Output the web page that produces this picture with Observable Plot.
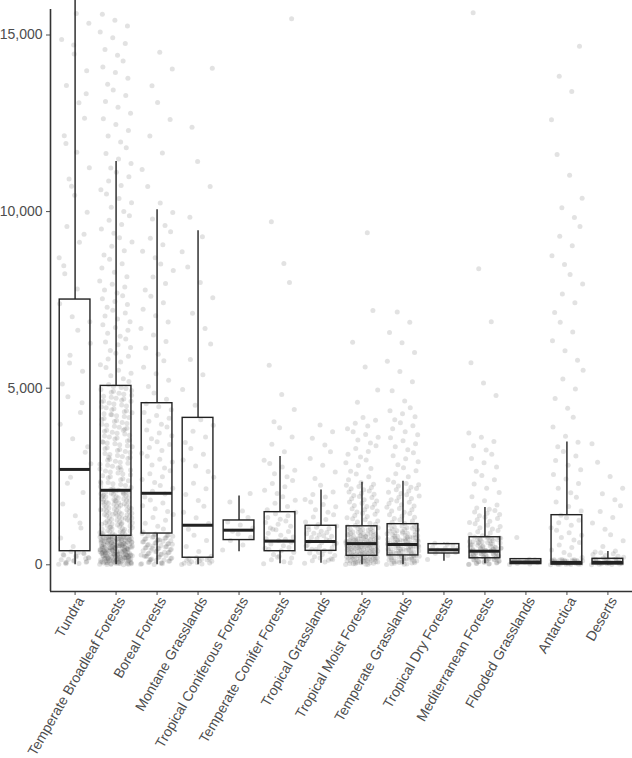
<!DOCTYPE html>
<html><head><meta charset="utf-8">
<script src="https://cdn.jsdelivr.net/npm/d3@7"></script>
<script src="https://cdn.jsdelivr.net/npm/@observablehq/plot@0.6"></script>
<style>body{margin:0;background:#fff}</style>
</head><body><div id="chart"></div>
<script>
const categories = ["Tundra","Temperate Broadleaf Forests","Boreal Forests","Montane Grasslands","Tropical Coniferous Forests","Temperate Conifer Forests","Tropical Grasslands","Tropical Moist Forests","Temperate Grasslands","Tropical Dry Forests","Mediterranean Forests","Flooded Grasslands","Antarctica","Deserts"];
const whiskerLow  = [0, 0, 0, 0, 370, 30, 45, 0, 0, 100, 30, 20, 0, 0];
const q1          = [385, 820, 885, 200, 700, 385, 395, 255, 265, 320, 185, 20, 5, 10];
const median      = [2700, 2110, 2025, 1120, 980, 670, 660, 600, 575, 425, 385, 80, 65, 65];
const q3          = [7510, 5065, 4575, 4160, 1255, 1490, 1105, 1090, 1150, 585, 780, 160, 1405, 170];
const whiskerHigh = [18200, 11420, 10055, 9460, 1950, 3065, 2120, 2340, 2365, 610, 1620, 160, 3480, 375];
const yTicks = [0, 5000, 10000, 15000];

const tundraPts = [15,40,65,90,120,160,190,230,270,310,350,30,75,110,140,205,250,290,335,380,55,175,
 520,760,1040,1390,1720,2050,2480,2860,3190,3570,3980,4310,4760,5120,5480,5930,6270,6640,7020,7390,
 1180,2310,3340,4590,5710,6880,
 7810,8240,8690,9130,9580,9980,10460,10920,11240,11680,12150,12640,13080,13570,13990,14460,14870,15330,15610,
 8470,9360,10720,11930,13340,14720];
const broadleafPts = [12,37,58,81,96,123,141,167,188,204,229,246,271,293,318,334,357,379,402,421,448,466,489,512,534,553,578,597,621,643,668,689,712,736,758,781,797,
 23,49,72,109,134,156,178,213,238,262,287,306,341,366,391,414,437,459,481,503,527,548,571,593,614,637,659,683,704,727,749,772,794,
 8,31,64,89,117,149,171,196,221,253,279,301,327,352,384,409,433,471,497,541,586,628,674,718,763,
 3,17,29,44,61,77,93,104,119,131,145,162,174,183,199,209,217,233,242,258,266,276,284,298,313,322,338,347,361,373,387,396,406,417,426,441,452,463,476,486,494,507,517,529,538,552,562,574,583,591,604,617,631,648,662,673,686,697,708,721,731,742,753,767,777,786,792,15,34,52,67,87,101,127,152,181,193,224,249,274,296,329,363,394,424,458,492,519,557,601,653,699,744,788,
 812,846,871,905,938,964,997,1023,1058,1086,1112,1147,1173,1209,1236,1264,1291,1327,1352,1388,1413,1446,1472,1508,1534,1567,1593,1621,1654,1682,1717,1743,1776,1802,1838,1864,1897,1925,1958,1987,2014,2048,2081,883,952,1071,1194,1318,1431,1557,1689,1811,1942,2067,
 803,829,858,889,917,946,973,1004,1036,1064,1097,1128,1156,1187,1219,1248,1276,1308,1339,1371,1398,1427,1459,1488,1519,1548,1579,1608,1637,1668,1699,1728,1759,1788,1819,1849,1878,1908,1937,1969,1998,2027,2058,2089,2097,826,1153,1462,1772,2031,
 2134,2187,2243,2296,2351,2409,2462,2518,2573,2627,2684,2739,2791,2848,2903,2957,3012,3068,3121,3176,3233,3287,3342,3398,3451,3507,3562,3618,3671,3726,3783,3837,3892,3948,4003,4057,4112,4168,4223,4277,4332,4389,4443,4497,4553,4608,4662,4718,4772,4828,4883,4937,4992,5046,2318,2692,3044,3469,3812,4256,4631,
 2112,2161,2219,2274,2327,2382,2436,2491,2547,2602,2656,2711,2767,2821,2876,2931,2986,3041,3096,3151,3206,3261,3316,3371,3426,3481,3536,3591,3646,3701,3756,3811,3866,3921,3976,4031,4086,4141,4196,4251,4306,4361,4416,4471,4526,4581,4636,4691,4746,4801,4856,4911,4966,5021,
 5103,5187,5264,5349,5421,5508,5583,5667,5742,5829,5906,5988,6067,6149,6228,6311,6392,6474,6553,6638,6716,6798,6881,6962,7043,7127,7206,7289,7371,7452,7534,7618,7697,7779,7862,7944,
 8034,8157,8281,8402,8526,8649,8771,8893,9018,9142,9263,9387,9509,9634,9757,9879,10003,10126,10248,10372,10497,10619,10742,10866,10988,11112,11237,11361,
 11486,11643,11809,11971,12138,12296,12463,12629,12787,12952,13118,13284,13441,13607,13774,13938,14096,14263,14428,14591,14757,14922,15087,15253,15418,15584];
const borealPts = [14,42,68,97,121,153,178,207,232,261,289,314,343,368,397,424,451,479,506,532,561,587,614,642,668,697,723,751,778,806,833,861,887,27,139,246,358,472,585,702,
 6,33,55,82,109,137,166,192,219,247,275,301,329,356,383,411,438,465,493,519,546,574,600,627,655,682,710,737,764,792,820,847,874,
 931,1012,1094,1177,1258,1342,1423,1507,1589,1672,1753,1836,1918,2001,2083,2167,2248,2331,2413,2496,2578,2661,2743,2826,2908,2991,3073,3156,3238,3321,3403,3486,3568,3651,3733,3816,3898,3981,4063,4146,4228,4311,4393,4476,4558,
 4684,4862,5047,5228,5411,5593,5776,5958,6141,6323,6506,6688,6871,7053,7236,7418,7601,7783,7966,8148,8331,8513,8696,8878,9061,9243,9426,9608,9791,9973,
 10240,10710,11190,11660,12140,12610,13090,13560,14040,14510];
const montanePts = [8,21,37,52,66,83,97,112,128,143,157,172,186,199,45,
 240,380,520,690,840,1010,1170,1330,1490,1660,1820,1990,2150,2310,2480,2640,2800,2970,3130,3290,3460,3620,3780,3950,4110,
 4520,4960,5380,5810,6250,6690,7120,7560,7990,8430,8860,9290,9840,10710,11420,12390,14060];
const tropConiferousPts = [420,560,690,780,870,950,1040,1130,1210,1340,1520,1780,2020];
const tempConiferPts = [30,85,140,190,240,290,345,395,440,490,540,590,640,690,740,790,840,895,945,990,1040,1090,1145,1195,1240,1290,1340,1390,1445,1490,60,215,470,720,1010,
 1560,1650,1740,1830,1930,2020,2110,2210,2300,2390,2490,2580,2680,2770,2870,2960,
 3200,3410,3620,3880,4050,4400,4820,5650,7990,8530,9710,15460];
const tropGrassPts = [45,80,115,150,190,225,260,295,335,370,405,440,480,515,550,590,625,660,695,735,770,805,845,880,915,950,990,1025,1060,1095,170,350,530,710,890,1070,130,430,610,820,
 1140,1210,1280,1350,1420,1490,1560,1640,1710,1780,1850,1920,1990,2060,
 2250,2440,2630,2820,3010,3200,3390,3580,3770,3960];
const tropMoistPts = [5,18,31,44,57,70,84,97,110,123,137,150,163,176,190,203,216,229,243,256,269,282,296,309,322,335,349,362,375,388,402,415,428,441,455,468,481,494,508,521,534,547,561,574,587,600,614,627,640,653,667,680,693,706,720,733,746,759,773,786,799,812,826,839,852,865,879,892,905,918,932,945,958,971,985,998,1011,1024,1038,1051,1064,1077,1091,
 11,27,39,51,64,78,91,104,117,131,144,157,170,184,197,210,223,237,250,263,276,290,303,316,329,343,356,369,382,396,409,422,435,449,462,475,488,502,515,528,541,555,568,581,594,608,621,634,647,661,674,687,700,714,740,766,793,820,846,873,
 1115,1146,1178,1209,1241,1272,1304,1335,1367,1398,1430,1461,1493,1524,1556,1587,1619,1650,1682,1713,1745,1776,1808,1839,1871,1902,1934,1965,1997,2028,2060,2091,2123,2154,2186,2217,2249,2280,
 2330,2410,2490,2570,2650,2730,2810,2890,2970,3050,3130,3210,3290,3370,3450,3530,3610,3690,3770,3850,3930,4010,4090,4170,
 4600,4950,5600,6300,7200,9400];
const tempGrassPts = [7,24,41,59,76,93,111,128,146,163,180,198,215,232,250,267,285,302,319,337,354,372,389,406,424,441,458,476,493,511,528,545,563,580,597,615,632,650,667,684,702,719,736,754,771,789,806,823,841,858,876,893,910,928,945,962,980,997,1015,1032,1049,1067,1084,1101,1119,1136,
 15,33,50,68,85,102,120,137,155,172,189,207,224,241,259,276,294,311,328,346,363,381,398,415,433,450,467,485,502,520,537,554,572,589,606,624,641,659,676,693,711,728,745,763,780,798,850,902,955,1007,
 1168,1203,1239,1274,1310,1345,1381,1416,1452,1487,1523,1558,1594,1629,1665,1700,1736,1771,1807,1842,1878,1913,1949,1984,2020,2055,2091,2126,2162,2197,2233,2268,2304,2339,
 2410,2490,2580,2660,2750,2830,2920,3000,3090,3170,3260,3340,3430,3510,3600,3680,3770,3850,3940,4020,4110,4190,4280,4360,4450,
 4640,4930,5180,5470,5760,6010,6290,6580,6870,7160];
const tropDryPts = [150,260,330,350,380,420,460,470,500,540,580,610];
const mediterraneanPts = [6,22,38,54,70,86,102,118,134,150,166,182,198,214,230,246,262,278,294,310,326,342,358,374,390,406,422,438,454,470,486,502,518,534,550,566,582,598,614,630,646,662,678,694,710,726,742,758,774,790,
 14,30,46,62,78,94,110,126,142,158,174,190,206,222,238,254,270,286,302,318,334,350,366,382,398,414,430,446,462,478,494,526,558,590,622,654,686,718,750,782,
 823,861,898,936,973,1011,1048,1086,1123,1161,1198,1236,1273,1311,1348,1386,1423,1461,1498,1536,1573,1611,
 1690,1810,1930,2050,2170,2290,2410,2530,2650,2770,2890,3010,3130,3250,3370,3490,3610,3730,
 4790,5150,5720,6880,8380,15630];
const floodedPts = [10,25,40,55,70,85,100,115,130,145,160,770];
const antarcticaPts = [2,6,10,14,18,22,26,30,34,38,42,46,50,54,58,62,66,70,74,78,82,86,90,94,98,102,106,110,114,118,122,126,130,134,138,142,146,150,
 210,280,350,420,490,560,630,700,770,840,910,980,1050,1120,1190,1260,1330,1400,
 1520,1650,1780,1910,2040,2170,2300,2430,2560,2690,2820,2950,3080,3210,3340,3470,
 3640,3900,4180,4430,4710,4980,5260,5510,5790,6060,6340,6590,6870,7140,7420,7670,7950,8220,8500,8750,9030,9300,9580,9830,10110,10380,11030,11620,12600,13400,13830,14680];
const desertsPts = [3,9,15,21,27,33,39,45,51,57,63,69,75,81,87,93,99,105,111,117,123,129,135,141,147,153,159,165,
 190,215,240,265,290,315,340,365,390,
 520,680,850,1010,1180,1340,1510,1670,1840,2010,2170,2500,2900,3430];

const pointSeries = [tundraPts, broadleafPts, borealPts, montanePts, tropConiferousPts, tempConiferPts, tropGrassPts, tropMoistPts, tempGrassPts, tropDryPts, mediterraneanPts, floodedPts, antarcticaPts, desertsPts];

const boxes = categories.map((c, i) => ({i, c, lo: whiskerLow[i], q1: q1[i], med: median[i], q3: q3[i], hi: whiskerHigh[i]}));
const points = pointSeries.flatMap((arr, i) => arr.map((v, j) => ({i, j, v})));
// deterministic horizontal spread (position only)
const jitter = j => ((j * 0.6180339887 + Math.floor(j / 5) * 0.2113) % 1 - 0.5) * 0.8;
const half = 0.375;
const yMin = -756, yMax = 15722;

const chart = Plot.plot({
  width: 632, height: 758,
  marginLeft: 50, marginRight: 0, marginTop: 9, marginBottom: 167,
  style: {fontFamily: "'Liberation Sans', Arial, sans-serif", fontSize: "14px", color: "#4d4d4d", background: "#fff"},
  x: {domain: [-0.6, 13.6], ticks: categories.map((c, i) => i), tickFormat: () => "", tickSize: 4, label: null},
  y: {domain: [yMin, yMax], ticks: yTicks, tickFormat: d3.format(","), tickSize: 4, tickPadding: 4, label: null},
  marks: [
    Plot.dot(points, {x: d => d.i + jitter(d.j), y: "v", r: 2.5, fill: "#555", fillOpacity: 0.17, stroke: "none"}),
    Plot.ruleX(boxes, {x: "i", y1: "q3", y2: "hi", stroke: "#222", strokeWidth: 1.4}),
    Plot.ruleX(boxes, {x: "i", y1: "lo", y2: "q1", stroke: "#222", strokeWidth: 1.4}),
    Plot.rect(boxes, {x1: d => d.i - half, x2: d => d.i + half, y1: "q1", y2: "q3", fill: "none", stroke: "#222", strokeWidth: 1.4}),
    Plot.ruleY(boxes, {y: "med", x1: d => d.i - half, x2: d => d.i + half, stroke: "#222", strokeWidth: 3}),
    Plot.ruleX([-0.6], {stroke: "#333", strokeWidth: 1.6}),
    Plot.ruleY([yMin], {stroke: "#333", strokeWidth: 1.6}),
    Plot.text(categories, {x: (d, i) => i, frameAnchor: "bottom", text: d => d, rotate: -60, textAnchor: "end", lineAnchor: "top", dx: 1, dy: 4, fill: "#4d4d4d", fontSize: 14})
  ]
});
document.getElementById("chart").appendChild(chart);
</script>
</body></html>
